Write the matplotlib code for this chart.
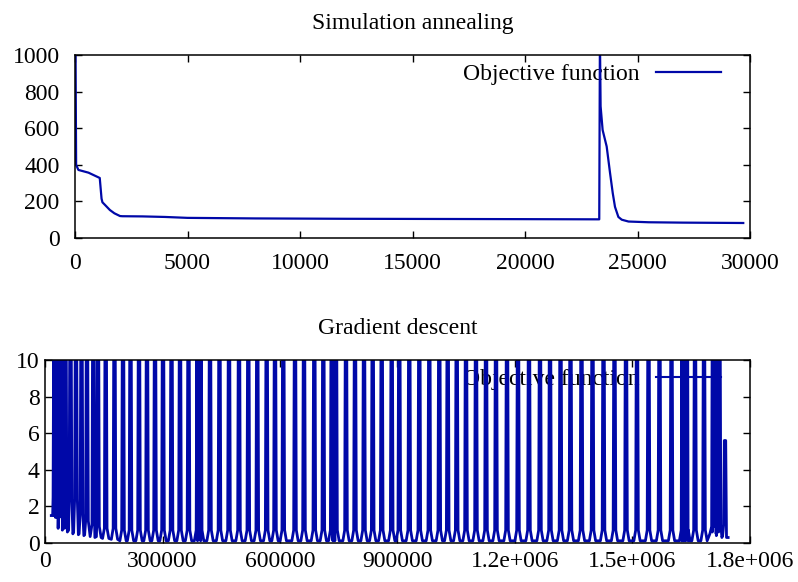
import numpy as np
import matplotlib
matplotlib.use("Agg")
import matplotlib.pyplot as plt

plt.rcParams['font.family'] = ['Liberation Serif', 'DejaVu Serif']

# ---------------- data: simulated annealing ----------------
sa_iter = [0, 50, 150, 600, 1100, 1180, 1220, 1300, 1550, 1750, 2000, 2100, 3000,
           4000, 5000, 8000, 12000, 16000, 20000, 23300, 23330, 23360, 23450,
           23630, 23780, 23900, 24000, 24150, 24300, 24600, 25500, 27000, 29700]
sa_obj = [1600, 400, 372, 357, 328, 215, 195, 185, 153, 135, 120, 119, 118,
          115, 110, 107, 105, 104, 103, 102, 1100, 720, 590,
          500, 355, 245, 170, 115, 100, 90, 86, 84, 82]

sa_xticks = [0, 5000, 10000, 15000, 20000, 25000, 30000]
sa_yticks = [0, 200, 400, 600, 800, 1000]

# ---------------- data: gradient descent ----------------
gd_start = (23000, 8.7)
gd_spike_iter = [24000, 27500, 31000, 34500, 38000, 41500, 52300, 65100, 79100, 93200,
                 107200, 123300, 135300, 155000, 177400, 199200, 218300, 240000,
                 260400, 280900, 301300, 323000, 344700, 366400, 389400, 397500,
                 421300, 445500, 469800, 495300, 519100, 542000, 566000, 587200,
                 608400, 638300, 661300, 687600, 710600, 732000, 743000, 768500,
                 791500, 814500, 836700, 859700, 885200, 904600, 930100, 955700,
                 981200, 1006700, 1028200, 1051200, 1074900, 1100400, 1126000,
                 1151500, 1179600, 1207700, 1235700, 1263800, 1289400, 1316200,
                 1341700, 1369800, 1397900, 1426000, 1454000, 1483400, 1511500,
                 1540900, 1568900, 1599600, 1627700, 1634000, 1639100, 1659600,
                 1682600, 1705500, 1711900, 1722100, 1736200]
gd_spike_peak = [12.0] * 82 + [5.6]
gd_trough = [1.5, 1.5, 1.5, 1.4, 1.4, 0.8, 0.7, 0.6, 0.5, 0.45, 0.4, 0.35, 0.3, 0.25,
             0.2] + [0.12] * 64 + [0.5, 0.6, 0.4, 0.3]
gd_cusp = [2.5, 2.5, 2.5, 2.5, 2.5, 2.5, 2.5, 2.4, 2.4, 1.6, 1.2, 1.0, 0.9, 0.8,
           0.8] + [0.7] * 64 + [0.9, 1.0, 1.0, 1.0]
gd_end = (1740000, 0.3)

gd_xticks = [0, 300000, 600000, 900000, 1200000, 1500000, 1800000]
gd_xticklabels = ['0', '300000', '600000', '900000', '1.2e+006', '1.5e+006', '1.8e+006']
gd_yticks = [0, 2, 4, 6, 8, 10]

# spike outline template (offsets in iterations) - drawing style
half_top, half_cusp, half_base = 1800, 3400, 8000


def build_gd():
    xs = [gd_start[0]]
    ys = [gd_start[1]]
    for s, p, t, c in zip(gd_spike_iter, gd_spike_peak, gd_trough, gd_cusp):
        xs += [s - half_base, s - half_cusp, s - half_top, s + half_top,
               s + half_cusp, s + half_base]
        ys += [t, c, p, p, c, t]
    xs.append(gd_end[0])
    ys.append(gd_end[1])
    order = np.argsort(xs, kind='stable')
    return np.array(xs)[order], np.array(ys)[order]


line_color = '#0008A8'
fs = 17

fig = plt.figure(figsize=(7.98, 5.82), dpi=100)
W, H = 798, 582


def add_axes(l, t, r, b):
    return fig.add_axes([l / W, 1 - b / H, (r - l) / W, (b - t) / H])


def style(ax, ypad):
    for sp in ax.spines.values():
        sp.set_linewidth(1.1)
        sp.set_color('black')
    ax.tick_params(direction='in', length=5, width=1.0, top=True, right=True,
                   labelsize=fs, color='black')
    ax.tick_params(axis='y', pad=ypad)


# ---- top ----
ax1 = add_axes(75, 55, 750, 238)
ax1.plot(sa_iter, sa_obj, color=line_color, lw=1.6, label='Objective function', zorder=2)
ax1.set_xlim(0, 30000)
ax1.set_ylim(0, 1000)
ax1.set_xticks(sa_xticks)
ax1.set_xticklabels([str(v) for v in sa_xticks])
ax1.set_yticks(sa_yticks)
style(ax1, 11)
ax1.tick_params(axis='x', pad=11)
ax1.set_title('Simulation annealing', fontsize=fs, pad=19)
leg1 = ax1.legend(loc='center right', bbox_to_anchor=(0.9566, 0.8945), frameon=False,
                  markerfirst=False, fontsize=fs, handlelength=2.75, handletextpad=0.7,
                  borderaxespad=0, borderpad=0)
leg1.set_zorder(1)

# ---- bottom ----
ax2 = add_axes(45, 360, 750, 543)
gx, gy = build_gd()
ax2.plot(gx, gy, color=line_color, lw=2.0, label='Objective function', zorder=2)
ax2.set_xlim(0, 1800000)
ax2.set_ylim(0, 10)
ax2.set_xticks(gd_xticks)
ax2.set_xticklabels(gd_xticklabels)
ax2.set_yticks(gd_yticks)
style(ax2, 4)
ax2.tick_params(axis='x', pad=6)
ax2.set_title('Gradient descent', fontsize=fs, pad=19)
leg2 = ax2.legend(loc='center right', bbox_to_anchor=(0.9584, 0.8945), frameon=False,
                  markerfirst=False, fontsize=fs, handlelength=2.75, handletextpad=0.7,
                  borderaxespad=0, borderpad=0)
leg2.set_zorder(1)
for h in leg2.get_lines():
    h.set_linewidth(1.5)

fig.savefig('out.png', dpi=100)
